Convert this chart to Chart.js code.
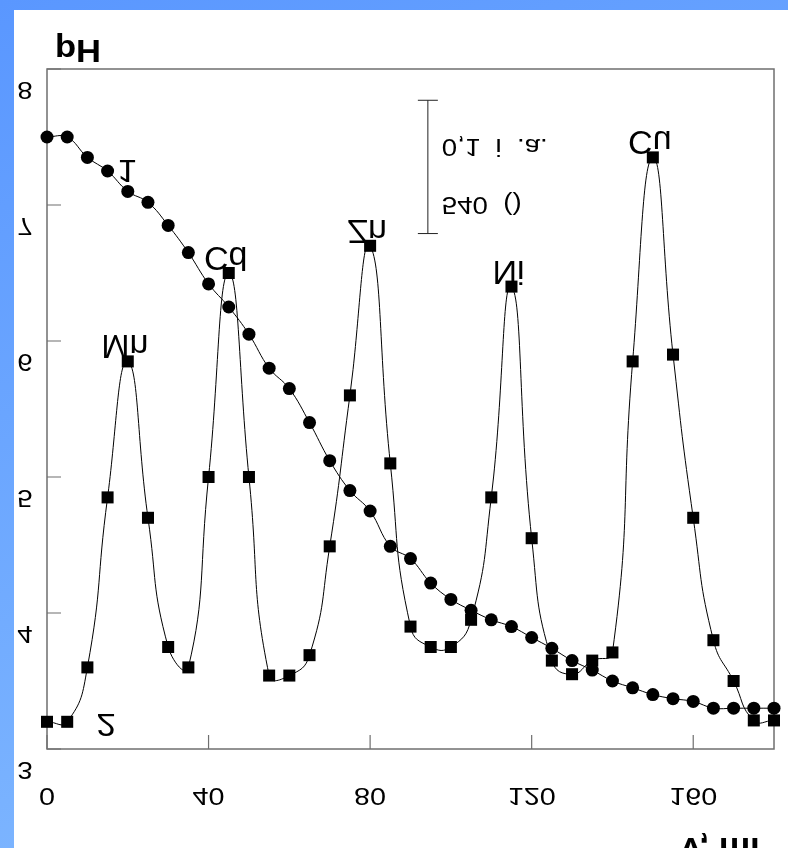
<!DOCTYPE html>
<html>
<head>
<meta charset="utf-8">
<script src="https://cdn.jsdelivr.net/npm/chart.js@4.4.0/dist/chart.umd.min.js"></script>
<style>
  html, body { margin: 0; padding: 0; }
  body {
    width: 788px; height: 848px; overflow: hidden; position: relative;
    background: linear-gradient(160deg, #5a97ff 0%, #72acff 55%, #86bdff 100%);
  }
  #panel { position: absolute; left: 14px; top: 10px; right: 0; bottom: 0; background: #fff; }
  #chart { position: absolute; left: 0; top: 0; }
</style>
</head>
<body>
<div id="panel"></div>
<canvas id="chart" width="788" height="848"></canvas>
<script>
// Volume of eluate (x) – one reading every 5 ml
const VOLUMES = [0, 5, 10, 15, 20, 25, 30, 35, 40, 45, 50, 55, 60, 65, 70, 75, 80, 85, 90,
  95, 100, 105, 110, 115, 120, 125, 130, 135, 140, 145, 150, 155, 160, 165, 170, 175, 180];

// Curve 1: pH of the eluate
const PH_VALUES = [7.50, 7.50, 7.35, 7.25, 7.10, 7.02, 6.85, 6.65, 6.42, 6.25, 6.05, 5.80, 5.65,
  5.40, 5.12, 4.90, 4.75, 4.49, 4.40, 4.22, 4.10, 4.02, 3.95, 3.90, 3.82, 3.74, 3.65, 3.58,
  3.50, 3.45, 3.40, 3.37, 3.35, 3.30, 3.30, 3.30, 3.30];

// Curve 2: metal content (plotted on the same axis, see scale bar)
const METAL_VALUES = [3.20, 3.20, 3.60, 4.85, 5.85, 4.70, 3.75, 3.60, 5.00, 6.50, 5.00, 3.54, 3.54,
  3.69, 4.49, 5.60, 6.70, 5.10, 3.90, 3.75, 3.75, 3.95, 4.85, 6.40, 4.55, 3.65, 3.55, 3.65,
  3.71, 5.85, 7.35, 5.90, 4.70, 3.80, 3.50, 3.21, 3.21];

const PEAK_NAMES = ['Mn', 'Cd', 'Zn', 'Ni', 'Cu'];
const PEAK_VOLUMES = [20, 45, 80, 115, 150];

const X_TICKS = [0, 40, 80, 120, 160];
const Y_TICKS = [3, 4, 5, 6, 7, 8];

// curve numbers, anchored in data units
const CURVE_LABELS = ['1', '2'];
const CURVE_LABEL_X = [19.8, 14.6];
const CURVE_LABEL_Y = [7.33, 3.26];

// scale bar for curve 2
const SCALE_BAR_X = 94.3;
const SCALE_BAR_RANGE = [6.79, 7.77];
const SCALE_BAR_TEXT = ['0,1  i  .a.', '540  ()'];

const AXIS_COLOR = '#6f6f6f';
const SANS = '"Liberation Sans", Arial, sans-serif';

// every label on this sheet is printed mirrored top-to-bottom
function drawFlipped(ctx, text, x, y, font, align, sx) {
  ctx.save();
  ctx.font = font;
  ctx.fillStyle = '#000';
  ctx.textAlign = align || 'left';
  ctx.textBaseline = 'alphabetic';
  ctx.translate(x, y);
  ctx.scale(sx || 1, -1);
  ctx.fillText(text, 0, 0);
  ctx.restore();
}

const sheetPlugin = {
  id: 'sheet',
  beforeDatasetsDraw(chart) {
    const { ctx, chartArea: a, scales: { x, y } } = chart;
    ctx.save();
    ctx.strokeStyle = AXIS_COLOR;
    ctx.lineWidth = 1.5;
    ctx.strokeRect(a.left, a.top, a.right - a.left, a.bottom - a.top);
    ctx.lineWidth = 1.2;
    ctx.beginPath();
    X_TICKS.forEach(v => {
      const px = x.getPixelForValue(v);
      ctx.moveTo(px, a.bottom);
      ctx.lineTo(px, a.bottom - 14);
    });
    Y_TICKS.forEach(v => {
      const py = y.getPixelForValue(v);
      ctx.moveTo(a.left, py);
      ctx.lineTo(a.left + 14, py);
    });
    ctx.stroke();
    ctx.restore();
  },
  afterDatasetsDraw(chart) {
    const { ctx, chartArea: a, scales: { x, y } } = chart;
    const tickFont = '23px ' + SANS;

    X_TICKS.forEach(v => drawFlipped(ctx, String(v), x.getPixelForValue(v), a.bottom + 39, tickFont, 'center', 1.25));
    Y_TICKS.forEach(v => drawFlipped(ctx, String(v), a.left - 22, y.getPixelForValue(v) + 13, tickFont, 'center', 1.2));

    drawFlipped(ctx, 'pH', a.left + 8, a.top - 29, 'bold 32px ' + SANS, 'left', 1.08);
    drawFlipped(ctx, 'V, ml', a.right - 95, a.bottom + 89, 'bold 32px ' + SANS, 'left', 1.1);

    PEAK_NAMES.forEach((name, i) => {
      const idx = VOLUMES.indexOf(PEAK_VOLUMES[i]);
      const px = x.getPixelForValue(PEAK_VOLUMES[i]);
      const py = y.getPixelForValue(METAL_VALUES[idx]);
      drawFlipped(ctx, name, px - 3, py - 26, '34px ' + SANS, 'center');
    });

    CURVE_LABELS.forEach((t, i) => {
      drawFlipped(ctx, t, x.getPixelForValue(CURVE_LABEL_X[i]), y.getPixelForValue(CURVE_LABEL_Y[i]), '32px ' + SANS, 'center', 1.1);
    });

    // scale bar
    const bx = x.getPixelForValue(SCALE_BAR_X);
    const top = y.getPixelForValue(SCALE_BAR_RANGE[1]);
    const bottom = y.getPixelForValue(SCALE_BAR_RANGE[0]);
    ctx.save();
    ctx.strokeStyle = '#222';
    ctx.lineWidth = 1;
    ctx.beginPath();
    ctx.moveTo(bx, top); ctx.lineTo(bx, bottom);
    ctx.moveTo(bx - 10, top); ctx.lineTo(bx + 10, top);
    ctx.moveTo(bx - 10, bottom); ctx.lineTo(bx + 10, bottom);
    ctx.stroke();
    ctx.restore();
    drawFlipped(ctx, SCALE_BAR_TEXT[0], bx + 14, top + 39, '23px ' + SANS, 'left', 1.2);
    drawFlipped(ctx, SCALE_BAR_TEXT[1], bx + 14, bottom - 37, '23px ' + SANS, 'left', 1.2);
  }
};

const toPoints = vals => VOLUMES.map((v, i) => ({ x: v, y: vals[i] }));

new Chart(document.getElementById('chart'), {
  type: 'line',
  data: {
    datasets: [
      {
        label: '1',
        data: toPoints(PH_VALUES),
        borderColor: '#000',
        borderWidth: 1,
        pointStyle: 'circle',
        pointRadius: 6.5,
        pointBackgroundColor: '#000',
        pointBorderWidth: 0,
        tension: 0.4,
        clip: false,
      },
      {
        label: '2',
        data: toPoints(METAL_VALUES),
        borderColor: '#000',
        borderWidth: 1,
        pointStyle: 'rect',
        pointRadius: 8.5,
        pointBackgroundColor: '#000',
        pointBorderWidth: 0,
        tension: 0.5,
        clip: false,
      }
    ]
  },
  options: {
    responsive: false,
    devicePixelRatio: 1,
    animation: false,
    layout: { padding: { left: 47, top: 69, right: 14, bottom: 99 } },
    scales: {
      x: { type: 'linear', min: 0, max: 180, display: false },
      y: { type: 'linear', min: 3, max: 8, display: false }
    },
    plugins: { legend: { display: false }, tooltip: { enabled: false } }
  },
  plugins: [sheetPlugin]
});
</script>
</body>
</html>
